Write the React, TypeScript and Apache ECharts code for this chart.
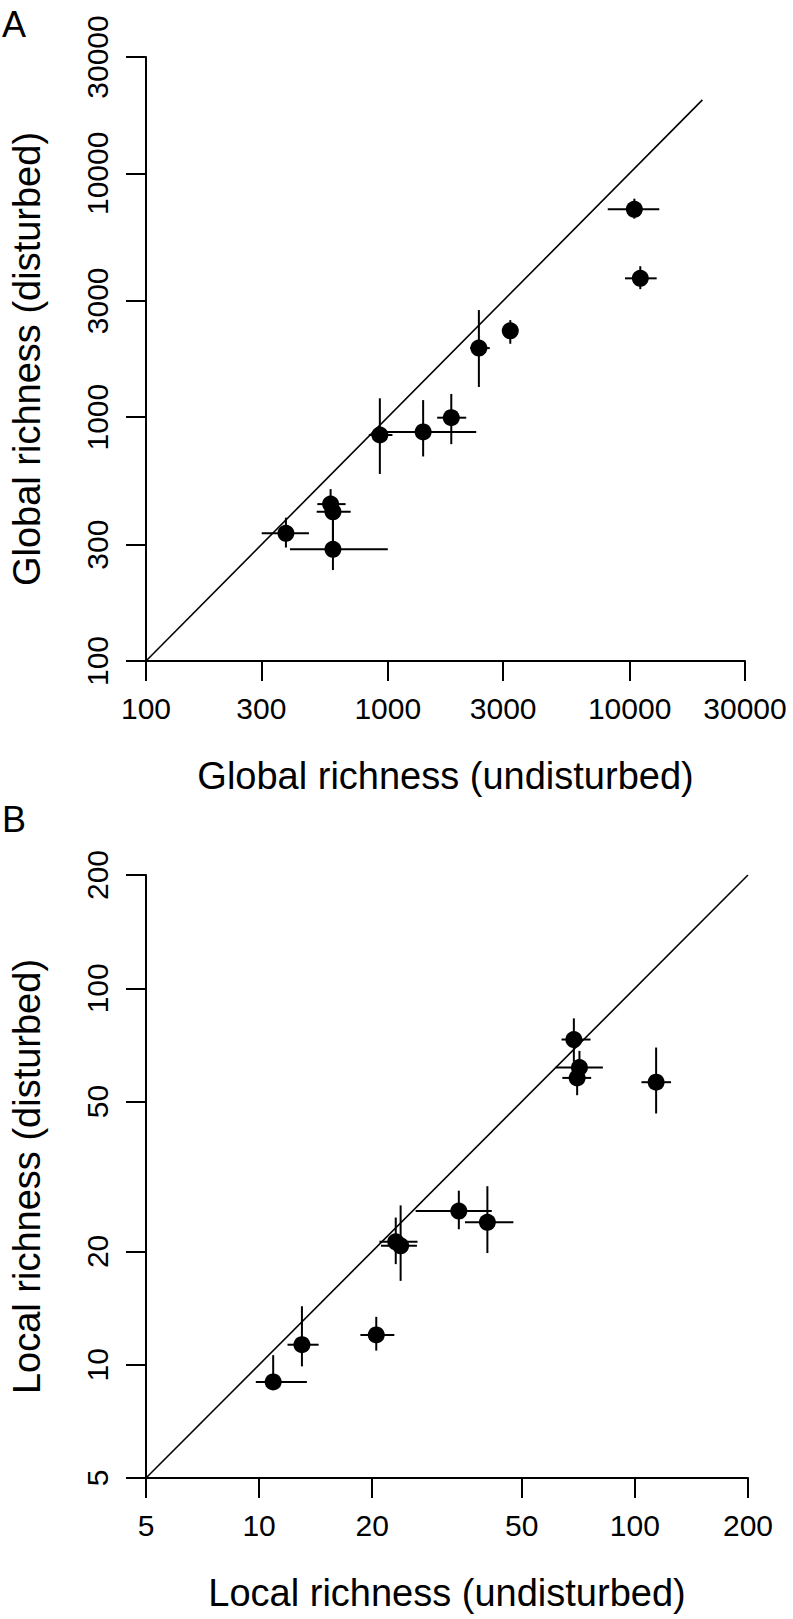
import React, { useEffect, useRef } from "react";
import * as echarts from "echarts";

// ---- Data ----
const globalTicks = [100, 300, 1000, 3000, 10000, 30000];
const localTicks = [5, 10, 20, 50, 100, 200];

const globalUndisturbed = [10460, 11070, 3210, 2380, 1830, 1400, 927, 580, 593, 593, 379];
const globalUndisturbedLow = [8120, 9570, 3100, 2190, 1600, 990, 835, 511, 508, 394, 301];
const globalUndisturbedHigh = [13260, 12940, 3320, 2640, 2110, 2320, 1045, 669, 702, 1000, 472];
const globalDisturbed = [7120, 3710, 2260, 1920, 995, 870, 845, 440, 409, 287, 334];
const globalDisturbedLow = [6520, 3350, 2000, 1330, 775, 690, 585, 400, 290, 236, 292];
const globalDisturbedHigh = [7870, 4160, 2500, 2750, 1245, 1175, 1195, 507, 470, 400, 387];

const localUndisturbed = [10.9, 13.0, 20.5, 23.1, 23.8, 34.0, 40.5, 68.8, 71.2, 70.2, 113.9];
const localUndisturbedLow = [9.8, 11.9, 18.6, 20.9, 21.1, 26.1, 35.3, 63.8, 61.5, 64.1, 104.1];
const localUndisturbedHigh = [13.4, 14.4, 22.9, 26.4, 26.3, 41.6, 47.5, 76.2, 82.2, 76.5, 124.8];
const localDisturbed = [9.0, 11.3, 12.0, 21.2, 20.7, 25.6, 23.9, 73.1, 61.6, 57.8, 56.3];
const localDisturbedLow = [8.6, 9.9, 10.9, 18.5, 16.7, 22.9, 19.8, 63.8, 56, 52.0, 46.5];
const localDisturbedHigh = [10.6, 14.3, 13.4, 24.6, 26.5, 29.0, 29.8, 83.2, 68.2, 62, 69.6];

const globalIdentity = [100, 20000];
const localIdentity = [5, 200];

const FONT = "'Liberation Sans', Arial, Helvetica, sans-serif";
const TICK_FS = 30;
const TITLE_FS = 38;
const LW = 2;

function rows(x: number[], y: number[], xl: number[], xh: number[], yl: number[], yh: number[]) {
  return x.map((v, i) => [v, y[i], xl[i], xh[i], yl[i], yh[i]]);
}

function errRender(params: any, api: any) {
  const x = api.value(0);
  const y = api.value(1);
  const a = api.coord([api.value(2), y]);
  const b = api.coord([api.value(3), y]);
  const c = api.coord([x, api.value(4)]);
  const d = api.coord([x, api.value(5)]);
  const st = { stroke: "#000", lineWidth: LW };
  return {
    type: "group",
    children: [
      { type: "line", shape: { x1: a[0], y1: a[1], x2: b[0], y2: b[1] }, style: st },
      { type: "line", shape: { x1: c[0], y1: c[1], x2: d[0], y2: d[1] }, style: st },
    ],
  };
}

function makeAxis(ticks: number[], name: string, isY: boolean, gridIndex: number) {
  return {
    type: "log",
    logBase: 10,
    gridIndex,
    min: ticks[0],
    max: ticks[ticks.length - 1],
    name,
    nameLocation: "middle",
    nameGap: isY ? 100 : 96,
    nameRotate: isY ? 90 : 0,
    nameTextStyle: { fontSize: TITLE_FS, color: "#000", fontFamily: FONT },
    axisLine: { show: true, onZero: false, lineStyle: { color: "#000", width: LW } },
    axisTick: {
      show: true,
      inside: false,
      length: 20,
      customValues: ticks,
      lineStyle: { color: "#000", width: LW },
    },
    axisLabel: {
      show: true,
      customValues: ticks,
      rotate: isY ? 90 : 0,
      margin: isY ? 34 : 32,
      fontSize: TICK_FS,
      color: "#000",
      fontFamily: FONT,
      formatter: (v: number) => String(Math.round(v)),
      showMinLabel: true,
      showMaxLabel: true,
      hideOverlap: false,
    },
    splitLine: { show: false },
    minorTick: { show: false },
  };
}

export default function App() {
  const ref = useRef<HTMLDivElement>(null);
  useEffect(() => {
    document.body.style.margin = "0";
    const chart = echarts.init(ref.current!, undefined, { renderer: "svg" });
    const option: any = {
      animation: false,
      backgroundColor: "#fff",
      textStyle: { fontFamily: FONT },
      grid: [
        { left: 145, top: 57, width: 600, height: 604 },
        { left: 145, top: 875, width: 603, height: 603 },
      ],
      xAxis: [
        makeAxis(globalTicks, "Global richness (undisturbed)", false, 0),
        makeAxis(localTicks, "Local richness (undisturbed)", false, 1),
      ],
      yAxis: [
        makeAxis(globalTicks, "Global richness (disturbed)", true, 0),
        makeAxis(localTicks, "Local richness (disturbed)", true, 1),
      ],
      graphic: [
        { type: "text", left: 2, top: 6, style: { text: "A", fontSize: 36, fill: "#000", fontFamily: FONT } },
        { type: "text", left: 2, top: 801, style: { text: "B", fontSize: 36, fill: "#000", fontFamily: FONT } },
      ],
      series: [
        {
          type: "line",
          xAxisIndex: 0,
          yAxisIndex: 0,
          data: [
            [globalIdentity[0], globalIdentity[0]],
            [globalIdentity[1], globalIdentity[1]],
          ],
          showSymbol: false,
          symbol: "none",
          lineStyle: { color: "#000", width: 1.6 },
          z: 1,
        },
        {
          type: "custom",
          xAxisIndex: 0,
          yAxisIndex: 0,
          renderItem: errRender,
          data: rows(globalUndisturbed, globalDisturbed, globalUndisturbedLow, globalUndisturbedHigh, globalDisturbedLow, globalDisturbedHigh),
          encode: { x: [0, 2, 3], y: [1, 4, 5] },
          z: 2,
        },
        {
          type: "scatter",
          xAxisIndex: 0,
          yAxisIndex: 0,
          data: globalUndisturbed.map((v, i) => [v, globalDisturbed[i]]),
          symbol: "circle",
          symbolSize: 17,
          itemStyle: { color: "#000", opacity: 1 },
          z: 3,
        },
        {
          type: "line",
          xAxisIndex: 1,
          yAxisIndex: 1,
          data: [
            [localIdentity[0], localIdentity[0]],
            [localIdentity[1], localIdentity[1]],
          ],
          showSymbol: false,
          symbol: "none",
          lineStyle: { color: "#000", width: 1.6 },
          z: 1,
        },
        {
          type: "custom",
          xAxisIndex: 1,
          yAxisIndex: 1,
          renderItem: errRender,
          data: rows(localUndisturbed, localDisturbed, localUndisturbedLow, localUndisturbedHigh, localDisturbedLow, localDisturbedHigh),
          encode: { x: [0, 2, 3], y: [1, 4, 5] },
          z: 2,
        },
        {
          type: "scatter",
          xAxisIndex: 1,
          yAxisIndex: 1,
          data: localUndisturbed.map((v, i) => [v, localDisturbed[i]]),
          symbol: "circle",
          symbolSize: 17,
          itemStyle: { color: "#000", opacity: 1 },
          z: 3,
        },
      ],
    };
    chart.setOption(option);
    return () => chart.dispose();
  }, []);
  return <div ref={ref} style={{ width: 793, height: 1619 }} />;
}
